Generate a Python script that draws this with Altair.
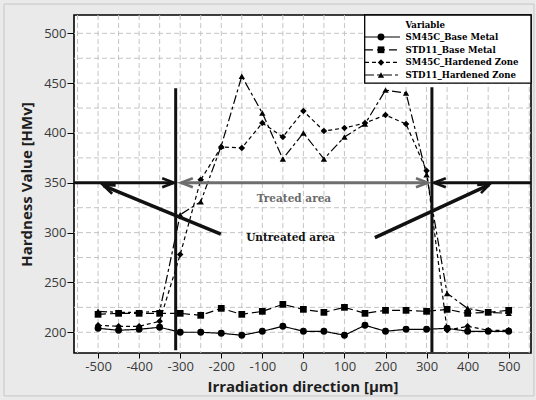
import altair as alt
import pandas as pd

# ---------------- data ----------------
positions = [-500, -450, -400, -350, -300, -250, -200, -150, -100, -50, 0,
             50, 100, 150, 200, 250, 300, 350, 400, 450, 500]
sm45c_base = [204, 202, 203, 205, 200, 200, 199, 197, 201, 206, 201,
              201, 197, 207, 201, 203, 203, 204, 201, 201, 201]
std11_base = [218, 219, 219, 219, 219, 217, 224, 218, 221, 228, 223,
              220, 225, 219, 222, 222, 221, 223, 219, 220, 222]
sm45c_hard = [207, 206, 206, 211, 278, 353, 386, 385, 410, 396, 422,
              402, 405, 410, 418, 409, 362, 202, 206, 202, 202]
std11_hard = [221, 220, 220, 221, 318, 331, 387, 457, 420, 374, 400,
              374, 396, 409, 443, 440, 358, 239, 224, 220, 219]
series_names = ["SM45C_Base Metal", "STD11_Base Metal",
                "SM45C_Hardened Zone", "STD11_Hardened Zone"]

x_ticks = [-500, -400, -300, -200, -100, 0, 100, 200, 300, 400, 500]
y_ticks = [200, 250, 300, 350, 400, 450, 500]
x_grid = [-550, -500, -450, -400, -350, -300, -250, -200, -150, -100, -50, 0,
          50, 100, 150, 200, 250, 300, 350, 400, 450, 500, 550]
y_grid = [200, 225, 250, 275, 300, 325, 350, 375, 400, 425, 450, 475, 500]

# annotation values (data units)
boundary_x = [-311, 313]
boundary_y0 = [182, 180]
boundary_y1 = [445, 446]
level_350 = 350
treated_label = "Treated area"
untreated_label = "Untreated area"
legend_title = "Variable"

rows = []
for name, vals in zip(series_names, [sm45c_base, std11_base, sm45c_hard, std11_hard]):
    for p, v in zip(positions, vals):
        rows.append({"pos": p, "val": v, "series": name})
df = pd.DataFrame(rows)

X_MIN, X_MAX = -558.6, 554.3
Y_MIN, Y_MAX = 179.2, 518.4
xs = alt.Scale(domain=[X_MIN, X_MAX], nice=False, zero=False)
ys = alt.Scale(domain=[Y_MIN, Y_MAX], nice=False, zero=False)

ax_x = alt.Axis(values=x_ticks, grid=False, labelExpr="'' + datum.value",
                title="Irradiation direction [\u03bcm]", tickSize=5,
                tickColor="black", domain=False, labelPadding=2,
                titleY=33, titleBaseline="middle")
ax_y = alt.Axis(values=y_ticks, grid=False,
                title="Hardness Value [HMv]", tickSize=7,
                tickColor="black", domain=False, labelPadding=1,
                titleX=-48, titleY=169, titleBaseline="middle")

dash_scale = alt.Scale(domain=series_names,
                       range=[[1, 0], [8, 4], [4, 3], [9, 3, 3, 3]])
shape_scale = alt.Scale(domain=series_names,
                        range=["circle", "square", "diamond", "triangle-up"])
size_scale = alt.Scale(domain=series_names, range=[48, 40, 60, 60])


def X(f):
    return alt.X(f, scale=xs, axis=ax_x)


def Y(f):
    return alt.Y(f, scale=ys, axis=ax_y)


# ---------------- series ----------------
base = alt.Chart(df)
lines = base.mark_line(color="black", strokeWidth=1.2).encode(
    x=X("pos:Q"), y=Y("val:Q"),
    strokeDash=alt.StrokeDash("series:N", scale=dash_scale, legend=None),
    detail="series:N",
)
points = base.mark_point(filled=True, color="black", opacity=1).encode(
    x=X("pos:Q"), y=Y("val:Q"),
    shape=alt.Shape("series:N", scale=shape_scale, legend=None),
    size=alt.Size("series:N", scale=size_scale, legend=None),
)

# ---------------- grid ----------------
vgrid = alt.Chart(pd.DataFrame({"g": x_grid})).mark_rule(
    color="#c4c4c4", strokeDash=[5, 3], strokeWidth=1
).encode(x=X("g:Q"))
hgrid = alt.Chart(pd.DataFrame({"g": y_grid})).mark_rule(
    color="#c4c4c4", strokeDash=[5, 3], strokeWidth=1
).encode(y=Y("g:Q"))

# ---------------- annotations ----------------
vlines = alt.Chart(pd.DataFrame({"x": boundary_x, "y": boundary_y0, "y2": boundary_y1})).mark_rule(
    color="#111111", strokeWidth=3
).encode(x=X("x:Q"), y=Y("y:Q"), y2="y2:Q")

hl = pd.DataFrame({
    "x": [X_MIN, -298, X_MAX],
    "x2": [-316, 303, 318],
    "y": [level_350] * 3,
    "col": ["#111111", "#6e6e6e", "#111111"],
})
hlines = alt.Chart(hl).mark_rule(strokeWidth=3).encode(
    x=X("x:Q"), x2="x2:Q", y=Y("y:Q"),
    color=alt.Color("col:N", scale=None),
)

dg = pd.DataFrame({
    "x": [-201, 174], "y": [298.6, 295],
    "x2": [-486, 452], "y2": [347, 348],
})
diag = alt.Chart(dg).mark_rule(color="#111111", strokeWidth=3.5).encode(
    x=X("x:Q"), y=Y("y:Q"), x2="x2:Q", y2="y2:Q"
)

heads = pd.DataFrame({
    "x": [-315, -298, 303, 318, -488, 454],
    "y": [level_350, level_350, level_350, level_350, 347.8, 348.8],
    "ang": [0, 180, 0, 180, 202.6, 335],
    "col": ["#111111", "#6e6e6e", "#6e6e6e", "#111111", "#111111", "#111111"],
})
arrowheads = alt.Chart(heads).mark_point(
    shape="M-1,-0.38L0,0L-1,0.38", filled=False, size=560, strokeWidth=2.6, opacity=1
).encode(
    x=X("x:Q"), y=Y("y:Q"),
    angle=alt.Angle("ang:Q", scale=None),
    color=alt.Color("col:N", scale=None),
)

txt = pd.DataFrame({
    "x": [-23, -31], "y": [334, 294.5],
    "t": [treated_label, untreated_label],
    "col": ["#6a6a6a", "#111111"],
})
texts = alt.Chart(txt).mark_text(
    font="DejaVu Serif", fontWeight="bold", fontSize=10.5, baseline="middle", align="center"
).encode(
    x=X("x:Q"), y=Y("y:Q"), text="t:N",
    color=alt.Color("col:N", scale=None),
)

# ---------------- legend (drawn in the chart's own scales) ----------------
leg_box = alt.Chart(pd.DataFrame({"x": [149.3], "x2": [X_MAX], "y": [Y_MAX], "y2": [450.1]})).mark_rect(
    fill="white", stroke="black", strokeWidth=1.3
).encode(x=X("x:Q"), x2="x2:Q", y=Y("y:Q"), y2="y2:Q")

leg_df = pd.DataFrame({
    "series": series_names,
    "ly": [496.3, 483.5, 470.8, 458.2],
    "lx0": [150.0] * 4, "lx1": [235.2] * 4, "mx": [189.0] * 4, "tx": [248.6] * 4,
})
leg_lines = alt.Chart(leg_df).mark_rule(color="black", strokeWidth=1.2).encode(
    x=X("lx0:Q"), x2="lx1:Q", y=Y("ly:Q"),
    strokeDash=alt.StrokeDash("series:N", scale=dash_scale, legend=None),
)
leg_pts = alt.Chart(leg_df).mark_point(filled=True, color="black", opacity=1).encode(
    x=X("mx:Q"), y=Y("ly:Q"),
    shape=alt.Shape("series:N", scale=shape_scale, legend=None),
    size=alt.Size("series:N", scale=size_scale, legend=None),
)
leg_txt = alt.Chart(leg_df).mark_text(
    font="DejaVu Serif", fontWeight="bold", fontSize=8.6, align="left",
    baseline="middle", color="black"
).encode(x=X("tx:Q"), y=Y("ly:Q"), text="series:N")
leg_title = alt.Chart(pd.DataFrame({"x": [248.6], "y": [508.3], "t": [legend_title]})).mark_text(
    font="DejaVu Serif", fontWeight="bold", fontSize=8.6, align="left", baseline="middle", color="black"
).encode(x=X("x:Q"), y=Y("y:Q"), text="t:N")

# thin outer border of the figure panel
border = alt.Chart(pd.DataFrame({"x": [-729.0], "x2": [561.5], "y": [529.4], "y2": [136.1]})).mark_rect(
    filled=False, stroke="#c6c6c6", strokeWidth=1
).encode(x=X("x:Q"), x2="x2:Q", y=Y("y:Q"), y2="y2:Q")

chart = alt.layer(
    vgrid, hgrid, lines, points, vlines, hlines, diag, arrowheads, texts,
    leg_box, leg_lines, leg_pts, leg_txt, leg_title, border,
).properties(
    width=457, height=338,
    autosize=alt.AutoSizeParams(type="none"),
    padding={"left": 74, "top": 15, "right": 5, "bottom": 47},
    background="#eaeaea",
).configure_view(
    fill="white", stroke="black", strokeWidth=1.6
).configure_axis(
    labelFont="Open Sans", labelFontSize=13, labelColor="#3a3a3a",
    titleFont="Open Sans", titleFontSize=15, titleFontWeight="bold", titleColor="#1e1e1e",
)

chart.save("out.html", embed_options={"renderer": "svg", "actions": False})
